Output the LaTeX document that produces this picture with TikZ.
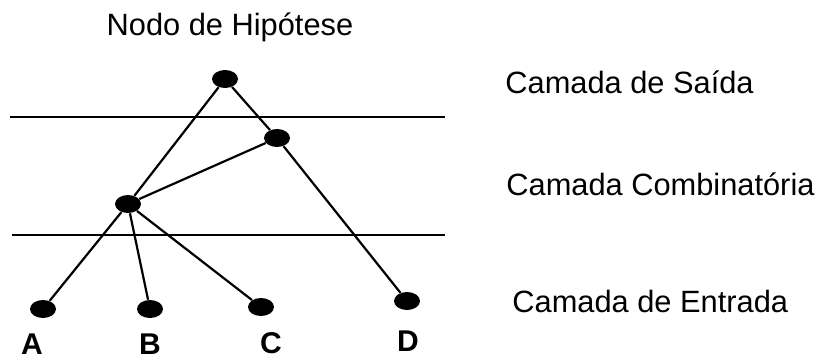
\documentclass[tikz,border=0pt]{standalone}
\usepackage{fontspec}
\setmainfont{Liberation Sans}
\usetikzlibrary{shapes.geometric}

\begin{document}
\begin{tikzpicture}[
    x=0.5pt, y=-0.5pt,
    unit/.style={ellipse, fill=black, inner sep=0pt, minimum width=13pt, minimum height=9pt},
    layer/.style={anchor=base west, inner sep=0pt, font=\fontsize{15.4}{18}\selectfont},
    letter/.style={anchor=base, inner sep=0pt, font=\fontsize{15}{18}\selectfont\bfseries},
    link/.style={line width=1.1pt},
    border/.style={line width=1.2pt}
]
\useasboundingbox (0,0) rectangle (820,360);

\node[anchor=base, inner sep=0pt, font=\fontsize{15.4}{18}\selectfont] (title) at (230,35) {Nodo de Hipótese};

% units
\node[unit] (hyp) at (225,79) {};
\node[unit] (comb) at (277,138) {};
\node[unit] (mid) at (128,204) {};
\node[unit] (a) at (43,309) {};
\node[unit] (b) at (150,309) {};
\node[unit] (c) at (261,307) {};
\node[unit] (d) at (407,301) {};

\node[letter] (la) at (32,354) {A};
\node[letter] (lb) at (150,354) {B};
\node[letter] (lc) at (271,353) {C};
\node[letter] (ld) at (408,351) {D};

% layer borders
\coordinate (top west) at (10,117);
\coordinate (top east) at (445,117);
\coordinate (low west) at (12,235);
\coordinate (low east) at (445,235);
\draw[border] (top west) -- (top east);
\draw[border] (low west) -- (low east);

\node[layer] (out) at (505,93) {Camada de Saída};
\node[layer] (combl) at (506,195) {Camada Combinatória};
\node[layer] (inl) at (512,312) {Camada de Entrada};

\draw[link] (hyp) -- (mid);
\draw[link] (hyp) -- (comb);
\draw[link] (comb) -- (mid);
\draw[link] (comb) -- (d);
\draw[link] (mid) -- (a);
\draw[link] (mid) -- (b);
\draw[link] (mid) -- (c);
\end{tikzpicture}
\end{document}
